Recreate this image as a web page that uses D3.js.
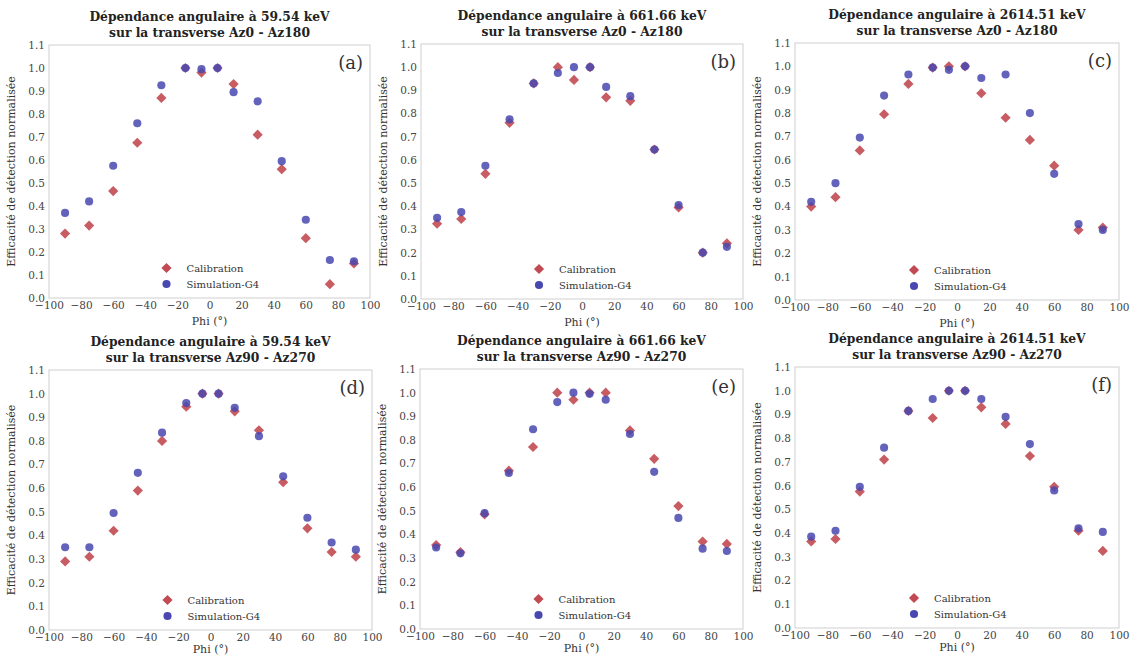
<!DOCTYPE html>
<html><head><meta charset="utf-8">
<script src="https://cdn.jsdelivr.net/npm/d3@7"></script>
<style>
body{margin:0;background:#fff;}
svg text{font-family:"DejaVu Serif",serif !important;}
</style></head>
<body><svg id="chart" width="1132" height="657"></svg>
<script>
const phi = [-90,-75,-60,-45,-30,-15,-5,5,15,30,45,60,75,90];
const xTicks = [-100,-80,-60,-40,-20,0,20,40,60,80,100];
const yTicks = [0.0,0.1,0.2,0.3,0.4,0.5,0.6,0.7,0.8,0.9,1.0,1.1];
const seriesNames = ["Calibration","Simulation-G4"];
const titles = [
 ["Dépendance angulaire à 59.54 keV","sur la transverse Az0 - Az180"],
 ["Dépendance angulaire à 661.66 keV","sur la transverse Az0 - Az180"],
 ["Dépendance angulaire à 2614.51 keV","sur la transverse Az0 - Az180"],
 ["Dépendance angulaire à 59.54 keV","sur la transverse Az90 - Az270"],
 ["Dépendance angulaire à 661.66 keV","sur la transverse Az90 - Az270"],
 ["Dépendance angulaire à 2614.51 keV","sur la transverse Az90 - Az270"]
];
const panelLabels = ["(a)","(b)","(c)","(d)","(e)","(f)"];
const calA = [0.28,0.315,0.465,0.675,0.87,1.0,0.98,1.0,0.93,0.71,0.56,0.26,0.06,0.15];
const simA = [0.37,0.42,0.575,0.76,0.925,1.0,0.995,1.0,0.895,0.855,0.595,0.34,0.165,0.16];
const calB = [0.325,0.345,0.54,0.76,0.93,1.0,0.945,1.0,0.87,0.855,0.645,0.395,0.2,0.24];
const simB = [0.35,0.375,0.575,0.775,0.93,0.975,1.0,1.0,0.915,0.875,0.645,0.405,0.2,0.225];
const calC = [0.40,0.44,0.64,0.795,0.925,0.995,1.0,1.0,0.885,0.78,0.685,0.575,0.30,0.31];
const simC = [0.42,0.50,0.695,0.875,0.965,0.995,0.985,1.0,0.95,0.965,0.80,0.54,0.325,0.30];
const calD = [0.29,0.31,0.42,0.59,0.80,0.945,1.0,1.0,0.925,0.845,0.625,0.43,0.33,0.31];
const simD = [0.35,0.35,0.495,0.665,0.835,0.96,1.0,1.0,0.94,0.82,0.65,0.475,0.37,0.34];
const calE = [0.355,0.325,0.485,0.67,0.77,1.0,0.97,1.0,1.0,0.84,0.72,0.52,0.37,0.36];
const simE = [0.345,0.32,0.49,0.66,0.845,0.96,1.0,0.995,0.97,0.825,0.665,0.47,0.34,0.33];
const calF = [0.365,0.375,0.575,0.71,0.915,0.885,1.0,1.0,0.93,0.86,0.725,0.595,0.41,0.325];
const simF = [0.385,0.41,0.595,0.76,0.915,0.965,1.0,1.0,0.965,0.89,0.775,0.58,0.42,0.405];
const calData = [calA,calB,calC,calD,calE,calF];
const simData = [simA,simB,simC,simD,simE,simF];

// layout (plot-area boxes)
const boxes = [
 {l:49,r:370,t:45,b:298},{l:421,r:743,t:44,b:299},{l:795,r:1119,t:43,b:300},
 {l:49,r:372,t:370,b:630},{l:420,r:743,t:369,b:629},{l:795,r:1119,t:367,b:628}
];
const calColor = "#c24a52", simColor = "#4848b0";
const FONT = "DejaVu Serif";
const svg = d3.select("#chart");
const diamond = d3.symbol().type(d3.symbolSquare).size(52);
const circle = d3.symbol().type(d3.symbolCircle).size(52);

boxes.forEach((bx,i)=>{
  const x = d3.scaleLinear().domain([-100,100]).range([bx.l,bx.r]);
  const y = d3.scaleLinear().domain([0,1.1]).range([bx.b,bx.t]);
  const g = svg.append("g");
  g.append("rect").attr("x",bx.l).attr("y",bx.t).attr("width",bx.r-bx.l).attr("height",bx.b-bx.t)
    .attr("fill","#fff").attr("stroke","#cfcfcf").attr("stroke-width",1);
  const xa = g.append("g").attr("transform",`translate(0,${bx.b})`)
    .call(d3.axisBottom(x).tickValues(xTicks).tickSize(0).tickPadding(4).tickFormat(d=>d3.format("")(d).replace("-","\u2212")));
  xa.attr("font-family",FONT);
  xa.select(".domain").remove();
  xa.selectAll("text").attr("font-size",10.5).attr("fill","#444");
  const ya = g.append("g").attr("transform",`translate(${bx.l},0)`)
    .call(d3.axisLeft(y).tickValues(yTicks).tickSize(0).tickPadding(4).tickFormat(d3.format(".1f")));
  ya.attr("font-family",FONT);
  ya.select(".domain").remove();
  ya.selectAll("text").attr("font-size",10.5).attr("fill","#444");
  // titles
  const cx = (bx.l+bx.r)/2;
  g.append("text").attr("x",cx).attr("y",bx.t-24).attr("text-anchor","middle")
    .attr("font-size",12.3).attr("font-weight","bold").attr("fill","#222").text(titles[i][0]);
  g.append("text").attr("x",cx).attr("y",bx.t-8).attr("text-anchor","middle")
    .attr("font-size",12.3).attr("font-weight","bold").attr("fill","#222").text(titles[i][1]);
  // axis labels
  g.append("text").attr("x",cx).attr("y",bx.b+(i<3?27:23)).attr("text-anchor","middle")
    .attr("font-size",11).attr("fill","#333").text("Phi (°)");
  g.append("text").attr("transform",`translate(${bx.l-34},${(bx.t+bx.b)/2}) rotate(-90)`)
    .attr("text-anchor","middle").attr("font-size",11).attr("fill","#333").text("Efficacité de détection normalisée");
  // panel label
  g.append("text").attr("x",bx.r-7).attr("y",bx.t+24).attr("text-anchor","end")
    .attr("font-size",18).attr("fill","#333").text(panelLabels[i]);
  // points
  g.selectAll(".cal").data(phi.map((p,k)=>[p,calData[i][k]])).join("path")
    .attr("d",diamond).attr("transform",d=>`translate(${x(d[0])},${y(d[1])}) rotate(45)`)
    .attr("fill",calColor).attr("fill-opacity",0.9);
  g.selectAll(".sim").data(phi.map((p,k)=>[p,simData[i][k]])).join("path")
    .attr("d",circle).attr("transform",d=>`translate(${x(d[0])},${y(d[1])})`)
    .attr("fill",simColor).attr("fill-opacity",0.85);
  // legend
  const lx = cx-43, ly = bx.b-30;
  g.append("path").attr("d",diamond).attr("transform",`translate(${lx},${ly}) rotate(45)`).attr("fill",calColor);
  g.append("path").attr("d",circle).attr("transform",`translate(${lx},${ly+16})`).attr("fill",simColor);
  seriesNames.forEach((s,k)=>{
    g.append("text").attr("x",lx+20).attr("y",ly+16*k+4).attr("font-size",10).attr("fill","#333").text(s);
  });
});
</script></body></html>
